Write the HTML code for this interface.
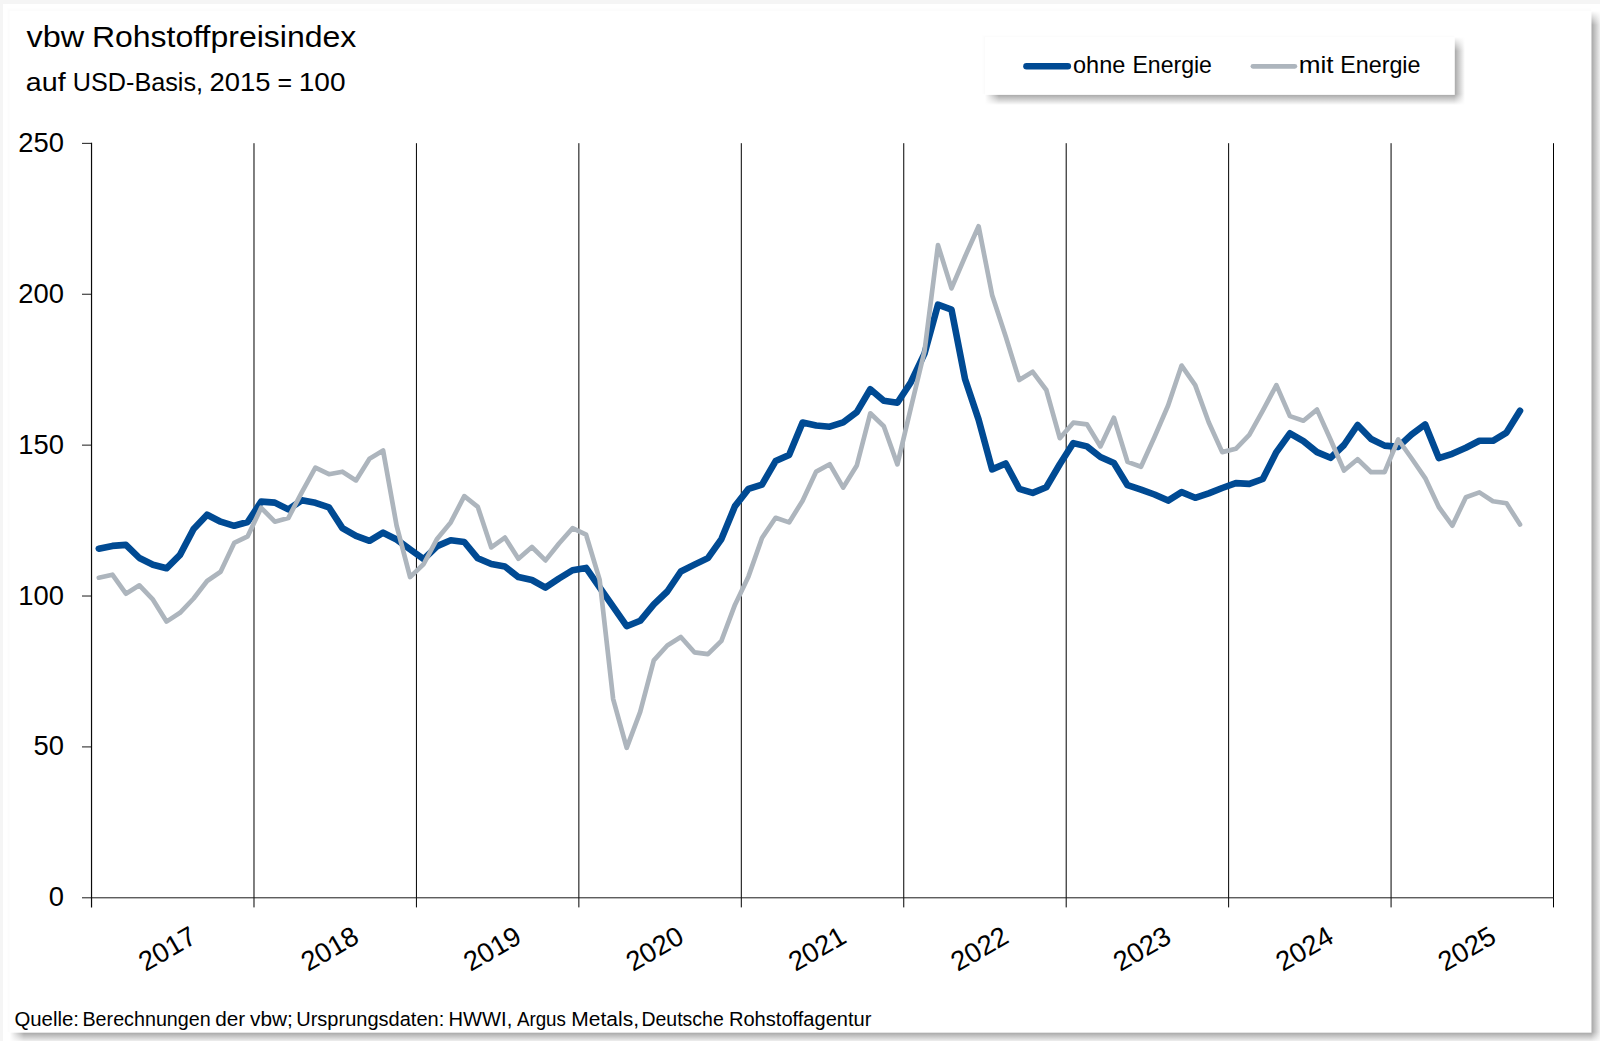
<!DOCTYPE html>
<html lang="de">
<head>
<meta charset="utf-8">
<title>vbw Rohstoffpreisindex</title>
<style>
html,body{margin:0;padding:0;background:#f5f5f5;}
body{width:1600px;height:1041px;overflow:hidden;position:relative;font-family:"Liberation Sans",sans-serif;}
svg{position:absolute;left:0;top:0;display:block;}
text{font-family:"Liberation Sans",sans-serif;fill:#000;}
</style>
</head>
<body>
<svg width="1600" height="1041" viewBox="0 0 1600 1041">
<defs>
<linearGradient id="shR" x1="0" y1="0" x2="1" y2="0"><stop offset="0" stop-color="#000" stop-opacity="0.365"/><stop offset="1" stop-color="#000" stop-opacity="0"/></linearGradient>
<linearGradient id="shB" x1="0" y1="0" x2="0" y2="1"><stop offset="0" stop-color="#000" stop-opacity="0.365"/><stop offset="1" stop-color="#000" stop-opacity="0"/></linearGradient>
<linearGradient id="wR" x1="0" y1="0" x2="1" y2="0"><stop offset="0" stop-color="#fff" stop-opacity="1"/><stop offset="1" stop-color="#fff" stop-opacity="0"/></linearGradient>
<linearGradient id="wB" x1="0" y1="0" x2="0" y2="1"><stop offset="0" stop-color="#fff" stop-opacity="1"/><stop offset="1" stop-color="#fff" stop-opacity="0"/></linearGradient>
<linearGradient id="wBr" x1="0" y1="0" x2="0" y2="1"><stop offset="0" stop-color="#fff" stop-opacity="0"/><stop offset="1" stop-color="#fff" stop-opacity="1"/></linearGradient>
</defs>

<rect x="0" y="0" width="1600" height="1041" fill="#f5f5f5"/>
<rect x="3" y="4" width="1597" height="1037" fill="#ffffff"/>
<rect x="6.5" y="7.6" width="1585.0" height="1025.1" fill="#000" fill-opacity="0.004"/>
<rect x="7.5" y="8.6" width="1584.0" height="1024.1" fill="#000" fill-opacity="0.005"/>
<rect x="8.5" y="9.6" width="1583.0" height="1023.1" fill="#000" fill-opacity="0.007"/>
<rect x="1591" y="11" width="11" height="1021" fill="url(#shR)"/>
<rect x="1591" y="11" width="11" height="14" fill="url(#wB)"/>
<rect x="10" y="1032" width="1581" height="11" fill="url(#shB)"/>
<rect x="10" y="1032" width="14" height="11" fill="url(#wR)"/>
<rect x="1591" y="1032" width="11" height="11" fill="url(#shR)"/>
<rect x="1591" y="1032" width="11" height="11" fill="url(#wBr)"/>
<rect x="9.5" y="10.6" width="1582.0" height="1022.1" fill="#fff"/>
<text y="46.9" font-size="29.9"><tspan x="26.63" textLength="57.67" lengthAdjust="spacingAndGlyphs">vbw</tspan> <tspan x="91.92" textLength="264.38" lengthAdjust="spacingAndGlyphs">Rohstoffpreisindex</tspan></text>
<text y="90.6" font-size="25.9"><tspan x="25.79" textLength="39.81" lengthAdjust="spacingAndGlyphs">auf</tspan> <tspan x="72.8" textLength="130.23" lengthAdjust="spacingAndGlyphs">USD-Basis,</tspan> <tspan x="209.58" textLength="61.0" lengthAdjust="spacingAndGlyphs">2015</tspan> <tspan x="277.59" textLength="14.59" lengthAdjust="spacingAndGlyphs">=</tspan> <tspan x="298.73" textLength="46.8" lengthAdjust="spacingAndGlyphs">100</tspan></text>
<g stroke="#000" stroke-width="1" fill="none"><line x1="253.99" y1="143.2" x2="253.99" y2="907.4"/><line x1="416.43" y1="143.2" x2="416.43" y2="907.4"/><line x1="578.87" y1="143.2" x2="578.87" y2="907.4"/><line x1="741.31" y1="143.2" x2="741.31" y2="907.4"/><line x1="903.75" y1="143.2" x2="903.75" y2="907.4"/><line x1="1066.19" y1="143.2" x2="1066.19" y2="907.4"/><line x1="1228.63" y1="143.2" x2="1228.63" y2="907.4"/><line x1="1391.07" y1="143.2" x2="1391.07" y2="907.4"/><line x1="1553.51" y1="143.2" x2="1553.51" y2="907.4"/></g>
<g stroke="#1a1a1a" stroke-width="1" fill="none"><line x1="82" y1="897.8" x2="1554" y2="897.8"/><line x1="82" y1="746.91" x2="91.55" y2="746.91"/><line x1="82" y1="596.02" x2="91.55" y2="596.02"/><line x1="82" y1="445.13" x2="91.55" y2="445.13"/><line x1="82" y1="294.24" x2="91.55" y2="294.24"/><line x1="82" y1="143.35" x2="91.55" y2="143.35"/></g>
<line x1="91.53" y1="142.8" x2="91.53" y2="907.4" stroke="#0a0a0a" stroke-width="1.2"/>
<text x="64" y="906.2" font-size="27.4" text-anchor="end">0</text>
<text x="64" y="755.4" font-size="27.4" text-anchor="end">50</text>
<text x="64" y="604.5" font-size="27.4" text-anchor="end">100</text>
<text x="64" y="453.6" font-size="27.4" text-anchor="end">150</text>
<text x="64" y="302.7" font-size="27.4" text-anchor="end">200</text>
<text x="64" y="151.8" font-size="27.4" text-anchor="end">250</text>
<text x="145.6" y="972.0" font-size="27.4" transform="rotate(-30 145.6 972.0)">2017</text>
<text x="308.0" y="972.0" font-size="27.4" transform="rotate(-30 308.0 972.0)">2018</text>
<text x="470.5" y="972.0" font-size="27.4" transform="rotate(-30 470.5 972.0)">2019</text>
<text x="632.9" y="972.0" font-size="27.4" transform="rotate(-30 632.9 972.0)">2020</text>
<text x="795.4" y="972.0" font-size="27.4" transform="rotate(-30 795.4 972.0)">2021</text>
<text x="957.8" y="972.0" font-size="27.4" transform="rotate(-30 957.8 972.0)">2022</text>
<text x="1120.2" y="972.0" font-size="27.4" transform="rotate(-30 1120.2 972.0)">2023</text>
<text x="1282.7" y="972.0" font-size="27.4" transform="rotate(-30 1282.7 972.0)">2024</text>
<text x="1445.1" y="972.0" font-size="27.4" transform="rotate(-30 1445.1 972.0)">2025</text>
<polyline points="98.8,548.7 112.4,545.9 125.9,544.9 139.4,558.0 153.0,564.7 166.5,568.3 180.0,554.9 193.6,529.0 207.1,514.7 220.6,521.7 234.2,525.8 247.7,522.0 261.2,501.6 274.8,502.6 288.3,509.4 301.8,500.2 315.4,502.8 328.9,507.3 342.4,528.1 356.0,535.9 369.5,540.8 383.1,532.7 396.6,539.5 410.1,549.3 423.7,559.1 437.2,546.1 450.7,540.3 464.3,542.0 477.8,558.3 491.3,564.0 504.9,566.5 518.4,577.1 531.9,580.0 545.5,587.6 559.0,578.5 572.5,570.3 586.1,567.9 599.6,587.4 613.1,606.6 626.7,626.2 640.2,620.8 653.8,604.4 667.3,591.5 680.8,571.5 694.4,564.6 707.9,558.1 721.4,539.1 735.0,506.1 748.5,488.9 762.0,484.6 775.6,461.1 789.1,454.9 802.6,422.6 816.2,425.5 829.7,426.7 843.2,422.3 856.8,412.1 870.3,389.3 883.8,400.7 897.4,402.7 910.9,382.2 924.5,353.7 938.0,304.7 951.5,309.6 965.1,379.3 978.6,419.6 992.1,469.4 1005.7,463.5 1019.2,488.8 1032.7,492.9 1046.3,487.2 1059.8,464.3 1073.3,443.1 1086.9,446.4 1100.4,457.0 1113.9,463.0 1127.5,485.2 1141.0,489.6 1154.5,494.5 1168.1,500.6 1181.6,492.1 1195.2,497.8 1208.7,493.4 1222.2,488.0 1235.8,483.1 1249.3,483.9 1262.8,479.0 1276.4,452.1 1289.9,433.3 1303.4,441.1 1317.0,452.1 1330.5,457.8 1344.0,445.0 1357.6,425.0 1371.1,439.0 1384.6,445.6 1398.2,446.9 1411.7,434.4 1425.2,424.4 1438.8,458.1 1452.3,453.8 1465.9,447.8 1479.4,440.8 1492.9,440.8 1506.5,432.6 1520.0,410.7" fill="none" stroke="#004a93" stroke-width="6.6" stroke-linejoin="round" stroke-linecap="round"/>
<polyline points="98.8,577.7 112.4,574.7 125.9,593.7 139.4,585.3 153.0,599.7 166.5,621.6 180.0,612.8 193.6,598.5 207.1,581.0 220.6,571.8 234.2,542.9 247.7,536.3 261.2,507.8 274.8,521.7 288.3,518.1 301.8,492.3 315.4,467.7 328.9,474.2 342.4,471.7 356.0,480.4 369.5,458.7 383.1,450.5 396.6,525.6 410.1,577.1 423.7,564.0 437.2,538.7 450.7,522.4 464.3,496.2 477.8,506.9 491.3,547.4 504.9,537.6 518.4,558.8 531.9,547.0 545.5,560.4 559.0,543.5 572.5,528.2 586.1,534.7 599.6,579.6 613.1,698.8 626.7,747.8 640.2,711.9 653.8,660.4 667.3,645.5 680.8,637.0 694.4,652.3 707.9,654.2 721.4,640.8 735.0,604.7 748.5,576.4 762.0,538.0 775.6,517.8 789.1,522.4 802.6,500.7 816.2,471.6 829.7,464.2 843.2,487.6 856.8,465.5 870.3,413.3 883.8,426.3 897.4,464.4 910.9,407.7 924.5,351.3 938.0,245.1 951.5,288.4 965.1,256.5 978.6,226.3 992.1,294.9 1005.7,336.6 1019.2,380.0 1032.7,371.8 1046.3,390.0 1059.8,438.2 1073.3,422.7 1086.9,424.3 1100.4,446.4 1113.9,417.8 1127.5,461.9 1141.0,466.8 1154.5,437.0 1168.1,405.5 1181.6,365.6 1195.2,385.1 1208.7,422.3 1222.2,452.1 1235.8,448.8 1249.3,434.9 1262.8,410.7 1276.4,385.1 1289.9,416.1 1303.4,420.7 1317.0,409.6 1330.5,439.5 1344.0,470.5 1357.6,459.3 1371.1,472.2 1384.6,472.2 1398.2,439.5 1411.7,458.5 1425.2,478.1 1438.8,507.0 1452.3,525.7 1465.9,497.3 1479.4,492.4 1492.9,501.2 1506.5,503.3 1520.0,524.5" fill="none" stroke="#adb5bd" stroke-width="4.7" stroke-linejoin="round" stroke-linecap="round"/>
<rect x="982.0" y="34.2" width="472.8" height="60.7" fill="#000" fill-opacity="0.004"/>
<rect x="983.0" y="35.2" width="471.8" height="59.7" fill="#000" fill-opacity="0.005"/>
<rect x="984.0" y="36.2" width="470.8" height="58.7" fill="#000" fill-opacity="0.007"/>
<rect x="1454" y="37" width="11" height="57" fill="url(#shR)"/>
<rect x="1454" y="37" width="11" height="14" fill="url(#wB)"/>
<rect x="985" y="94" width="469" height="11" fill="url(#shB)"/>
<rect x="985" y="94" width="14" height="11" fill="url(#wR)"/>
<rect x="1454" y="94" width="11" height="11" fill="url(#shR)"/>
<rect x="1454" y="94" width="11" height="11" fill="url(#wBr)"/>
<rect x="985" y="37.2" width="469.79999999999995" height="57.7" fill="#fff"/>
<line x1="1026.5" y1="66.25" x2="1067.8" y2="66.25" stroke="#004a93" stroke-width="6.6" stroke-linecap="round"/>
<line x1="1252.9" y1="66.35" x2="1294.9" y2="66.35" stroke="#adb5bd" stroke-width="4.7" stroke-linecap="round"/>
<text y="72.9" font-size="24.0"><tspan x="1073.02" textLength="52.25" lengthAdjust="spacingAndGlyphs">ohne</tspan> <tspan x="1132.48" textLength="79.47" lengthAdjust="spacingAndGlyphs">Energie</tspan></text>
<text y="72.9" font-size="24.0"><tspan x="1298.77" textLength="34.8" lengthAdjust="spacingAndGlyphs">mit</tspan> <tspan x="1340.26" textLength="80.19" lengthAdjust="spacingAndGlyphs">Energie</tspan></text>
<text y="1025.8" font-size="19.3"><tspan x="14.44" textLength="64.54" lengthAdjust="spacingAndGlyphs">Quelle:</tspan> <tspan x="82.47" textLength="128.25" lengthAdjust="spacingAndGlyphs">Berechnungen</tspan> <tspan x="215.19" textLength="30.01" lengthAdjust="spacingAndGlyphs">der</tspan> <tspan x="250.1" textLength="42.79" lengthAdjust="spacingAndGlyphs">vbw;</tspan> <tspan x="296.24" textLength="148.04" lengthAdjust="spacingAndGlyphs">Ursprungsdaten:</tspan> <tspan x="448.53" textLength="63.74" lengthAdjust="spacingAndGlyphs">HWWI,</tspan> <tspan x="516.9" textLength="49.01" lengthAdjust="spacingAndGlyphs">Argus</tspan> <tspan x="571.37" textLength="67.63" lengthAdjust="spacingAndGlyphs">Metals,</tspan> <tspan x="641.49" textLength="82.24" lengthAdjust="spacingAndGlyphs">Deutsche</tspan> <tspan x="728.94" textLength="142.54" lengthAdjust="spacingAndGlyphs">Rohstoffagentur</tspan></text>
</svg>
</body>
</html>
